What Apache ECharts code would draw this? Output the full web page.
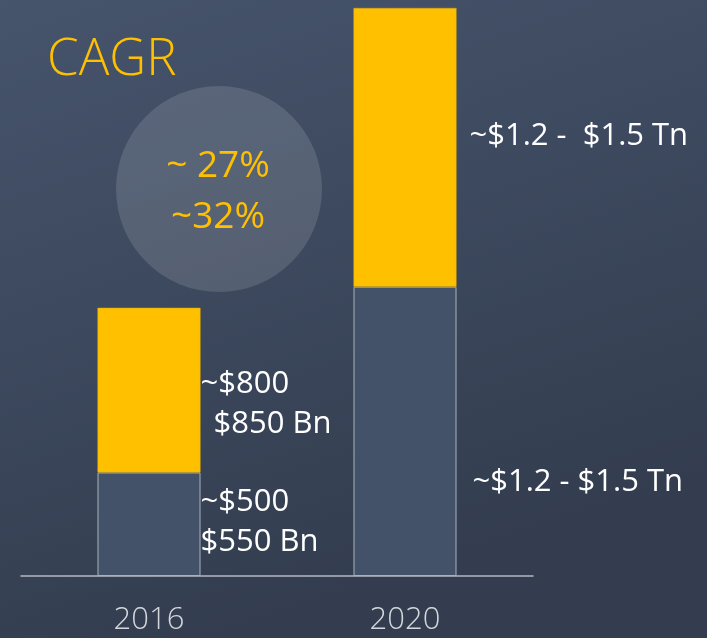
<!DOCTYPE html>
<html>
<head>
<meta charset="utf-8">
<script src="https://cdn.jsdelivr.net/npm/echarts@6/dist/echarts.min.js"></script>
<style>
html,body{margin:0;padding:0;}
#c{width:707px;height:638px;}
</style>
</head>
<body>
<div id="c"></div>
<script>
// Data
var categories = ['2016', '2020'];
var baseValues = [525, 1467];      // lower segment (approx. market size)
var upperValues = [835, 1413];     // upper segment
var baseLabels = ['{a|~$500}\n{a|$550 Bn}', '{a|~$1.2 - $1.5 Tn}'];
var upperLabels = ['{a|~$800}\n{b|$850 Bn}', '{a|~$1.2 -  $1.5 Tn}'];
var cagrTitle = 'CAGR';
var cagrValues = ['~ 27%', '~32%'];

var FONT = '"Open Sans", "Noto Sans", sans-serif';
var chart = echarts.init(document.getElementById('c'));

var rich = {
  a: { color: '#ffffff', fontSize: 31, fontFamily: FONT, lineHeight: 40 },
  b: { color: '#ffffff', fontSize: 31, fontFamily: FONT, lineHeight: 40, padding: [0, 0, 0, 13] }
};

var baseLabelCfg = [
  { distance: 0, offset: [0, -2] },
  { distance: 16, offset: [0, 51] }
];
var upperLabelCfg = [
  { distance: 0, offset: [0, 14] },
  { distance: 13, offset: [0, -11] }
];

chart.setOption({
  backgroundColor: {
    type: 'linear', x: 0, y: 0, x2: 0.3, y2: 1,
    colorStops: [
      { offset: 0, color: '#46546c' },
      { offset: 1, color: '#333d4f' }
    ]
  },
  animation: false,
  grid: { left: 21, right: 174, top: 8, bottom: 62, containLabel: false },
  xAxis: {
    type: 'category',
    data: categories,
    axisLine: { lineStyle: { color: '#b4b9c0', width: 1.5 } },
    axisTick: { show: false },
    axisLabel: { color: '#d3d7dc', fontSize: 31, fontFamily: FONT, fontWeight: 300, margin: 29 }
  },
  yAxis: { type: 'value', min: 0, max: 2880, show: false, splitLine: { show: false } },
  graphic: [
    {
      type: 'circle', shape: { cx: 219, cy: 189, r: 103 }, z: 0,
      style: { fill: 'rgba(255,255,255,0.13)' }
    },
    {
      type: 'text', left: 47, top: 35, z: 5,
      style: { text: cagrTitle, fill: '#ffc000', font: '300 51px ' + FONT }
    },
    {
      type: 'text', x: 218, y: 166, z: 5,
      style: { text: cagrValues[0], fill: '#ffc000', font: '37px ' + FONT, align: 'center', verticalAlign: 'middle' }
    },
    {
      type: 'text', x: 218, y: 217, z: 5,
      style: { text: cagrValues[1], fill: '#ffc000', font: '37px ' + FONT, align: 'center', verticalAlign: 'middle' }
    }
  ],
  series: [
    {
      type: 'bar', stack: 's', barWidth: 103,
      data: baseValues.map(function (v, i) {
        return {
          value: v,
          label: {
            show: true, position: 'right', distance: baseLabelCfg[i].distance, offset: baseLabelCfg[i].offset,
            formatter: baseLabels[i], rich: rich, align: 'left'
          }
        };
      }),
      itemStyle: { color: '#435269', borderColor: '#aab1bb', borderWidth: 1 }
    },
    {
      type: 'bar', stack: 's', barWidth: 103,
      data: upperValues.map(function (v, i) {
        return {
          value: v,
          label: {
            show: true, position: 'right', distance: upperLabelCfg[i].distance, offset: upperLabelCfg[i].offset,
            formatter: upperLabels[i], rich: rich, align: 'left'
          }
        };
      }),
      itemStyle: { color: '#ffc000', borderColor: '#d9a80a', borderWidth: 0.5 }
    }
  ]
});
</script>
</body>
</html>
